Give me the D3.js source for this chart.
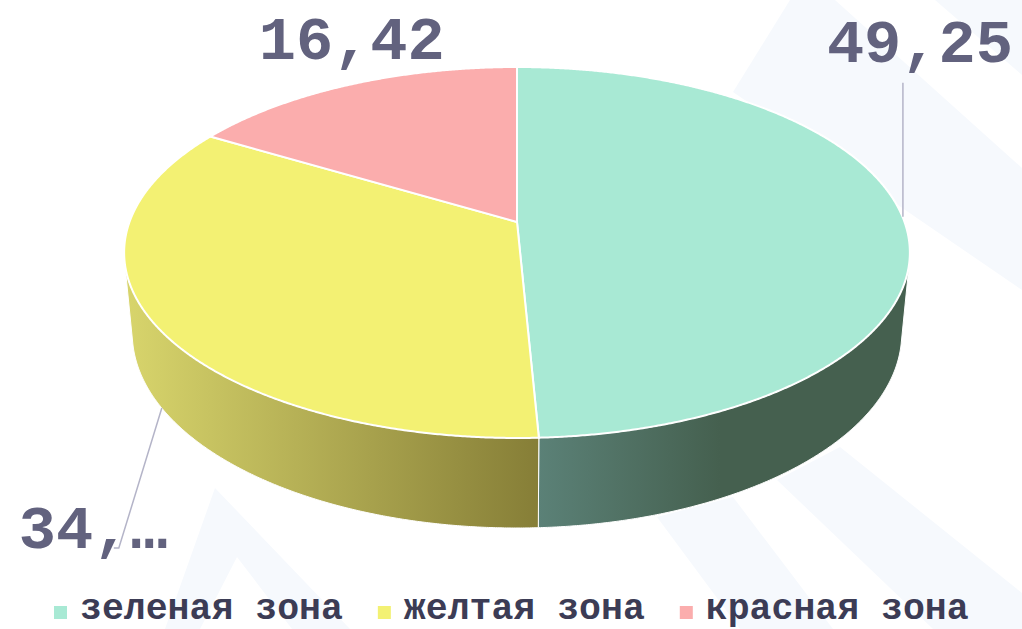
<!DOCTYPE html>
<html>
<head>
<meta charset="utf-8">
<script src="https://cdn.jsdelivr.net/npm/d3@7"></script>
<style>
  html, body { margin: 0; padding: 0; background: #ffffff; }
  svg { display: block; }
  .lbl { font-family: "Courier New", "Liberation Mono", monospace; font-weight: bold; fill: #62627e; }
  .leg { font-family: "Courier New", "Liberation Mono", monospace; font-weight: bold; fill: #3c3c55; }
</style>
</head>
<body>
<svg id="chart"></svg>
<script>
// chart data
const categories = ["зеленая зона", "желтая зона", "красная зона"];
const values = [49.25, 34.33, 16.42];
const labels = ["49,25", "34,…", "16,42"];
const topColors = ["#a8e9d4", "#f3f173", "#fbadad"];
const wallColors = [["#5b8177", "#45604f"], ["#d8d56c", "#867e37"], ["#e08e8e", "#b06a6a"]];

const width = 1022, height = 629;

const svg = d3.select("#chart")
    .attr("width", width)
    .attr("height", height);

svg.append("rect").attr("width", width).attr("height", height).attr("fill", "#ffffff");

// faint decorative bands in the background
const bands = [
  [[790, 0], [835, 0], [1022, 168], [1022, 290], [733, 92]],
  [[935, 0], [1022, 0], [1022, 75]],
  [[657, 517], [733, 497], [833, 629], [740, 629]],
  [[777, 480], [840, 447], [1022, 593], [1022, 629], [933, 629]],
  [[165, 629], [215, 488], [350, 629], [292, 629], [237, 557], [200, 629]]
];
svg.append("g").selectAll("polygon")
  .data(bands)
  .join("polygon")
    .attr("points", d => d.map(p => p.join(",")).join(" "))
    .attr("fill", "#f6f9fd");

// perspective projection of a unit cylinder (tilted pie)
const cam = { cx: 517, cy: 222, phi: Math.asin(0.4657), dist: 5.383, focal: 2086, depth: 0.2377 };
function project(theta, h) {
  const X = Math.sin(theta), Z = -Math.cos(theta);
  const s = Math.sin(cam.phi), c = Math.cos(cam.phi);
  const d = cam.dist - h * s - Z * c;
  return [cam.cx + cam.focal * X / d, cam.cy + cam.focal * (Z * s - h * c) / d];
}
function arcPoints(a0, a1, h) {
  const n = Math.max(2, Math.ceil(Math.abs(a1 - a0) / 0.005));
  return d3.range(n + 1).map(i => project(a0 + (a1 - a0) * i / n, h));
}

const pie = d3.pie().sort(null).value(d => d);
const arcs = pie(values);
const line = d3.line();

const defs = svg.append("defs");
const chart = svg.append("g");

// side walls, only the part that faces the viewer
const tangent = Math.acos(-1 / (cam.dist * Math.cos(cam.phi)));
const visLo = tangent, visHi = 2 * Math.PI - tangent;

arcs.forEach((a, i) => {
  const a0 = Math.max(a.startAngle, visLo), a1 = Math.min(a.endAngle, visHi);
  if (a1 <= a0) return;
  const top = arcPoints(a0, a1, 0);
  const bot = arcPoints(a0, a1, -cam.depth).reverse();
  const xs = top.concat(bot).map(p => p[0]);
  const x0 = d3.min(xs), x1 = d3.max(xs);
  const grad = defs.append("linearGradient")
      .attr("id", "wall" + i)
      .attr("gradientUnits", "userSpaceOnUse")
      .attr("x1", x0).attr("x2", x1).attr("y1", 0).attr("y2", 0);
  if (i === 0) {
    // green wall: lighter strip near the front, then flat dark
    grad.append("stop").attr("offset", 0).attr("stop-color", wallColors[i][0]);
    grad.append("stop").attr("offset", (720 - x0) / (x1 - x0)).attr("stop-color", wallColors[i][1]);
    grad.append("stop").attr("offset", 1).attr("stop-color", wallColors[i][1]);
  } else {
    grad.append("stop").attr("offset", 0).attr("stop-color", wallColors[i][0]);
    grad.append("stop").attr("offset", 1).attr("stop-color", wallColors[i][1]);
  }
  chart.append("path")
      .attr("d", line(top.concat(bot)) + "Z")
      .attr("fill", `url(#wall${i})`)
      .attr("stroke", "#ffffff")
      .attr("stroke-width", 1);
});

// top faces
chart.selectAll(".top")
  .data(arcs)
  .join("path")
    .attr("class", "top")
    .attr("d", a => line([[cam.cx, cam.cy]].concat(arcPoints(a.startAngle, a.endAngle, 0))) + "Z")
    .attr("fill", (a, i) => topColors[i])
    .attr("stroke", "#ffffff")
    .attr("stroke-width", 2)
    .attr("stroke-linejoin", "round");

// data labels
const mid = a => (a.startAngle + a.endAngle) / 2;
const labelG = svg.append("g");

// green: leader straight up from the rim
{
  const p = project(mid(arcs[0]), 0);
  labelG.append("line")
      .attr("x1", p[0]).attr("y1", p[1] - 1)
      .attr("x2", p[0]).attr("y2", p[1] - 135)
      .attr("stroke", "#b4b4c8").attr("stroke-width", 1.5);
  labelG.append("text").attr("class", "lbl")
      .attr("x", p[0] + 17).attr("y", p[1] - 156)
      .attr("text-anchor", "middle").attr("font-size", 62)
      .text(labels[0]);
}
// yellow: leader from the base of the wall down to the left
{
  const p = project(mid(arcs[1]), -cam.depth);
  labelG.append("polyline")
      .attr("points", [[p[0], p[1]], [p[0] - 43, p[1] + 140], [p[0] - 48, p[1] + 140]].map(q => q.join(",")).join(" "))
      .attr("fill", "none")
      .attr("stroke", "#b4b4c8").attr("stroke-width", 1.5);
  labelG.append("text").attr("class", "lbl")
      .attr("x", p[0] - 143).attr("y", p[1] + 140)
      .attr("text-anchor", "start").attr("font-size", 62)
      .text(labels[1]);
}
// red: just above the rim
{
  const p = project(mid(arcs[2]), 0);
  labelG.append("text").attr("class", "lbl")
      .attr("x", p[0] + 2).attr("y", p[1] - 26)
      .attr("text-anchor", "middle").attr("font-size", 62)
      .text(labels[2]);
}

// legend
const legend = svg.append("g");
const items = legend.selectAll("g")
  .data(categories)
  .join("g");
items.append("rect")
    .attr("width", 13).attr("height", 13)
    .attr("y", 606)
    .attr("fill", (d, i) => topColors[i]);
items.append("text").attr("class", "leg")
    .attr("x", 26).attr("y", 619)
    .attr("font-size", 36.5)
    .text(d => d);

let xPos = 54;
items.each(function() {
  const g = d3.select(this);
  g.attr("transform", `translate(${xPos},0)`);
  xPos += 26 + g.select("text").node().getComputedTextLength() + 35;
});
</script>
</body>
</html>
